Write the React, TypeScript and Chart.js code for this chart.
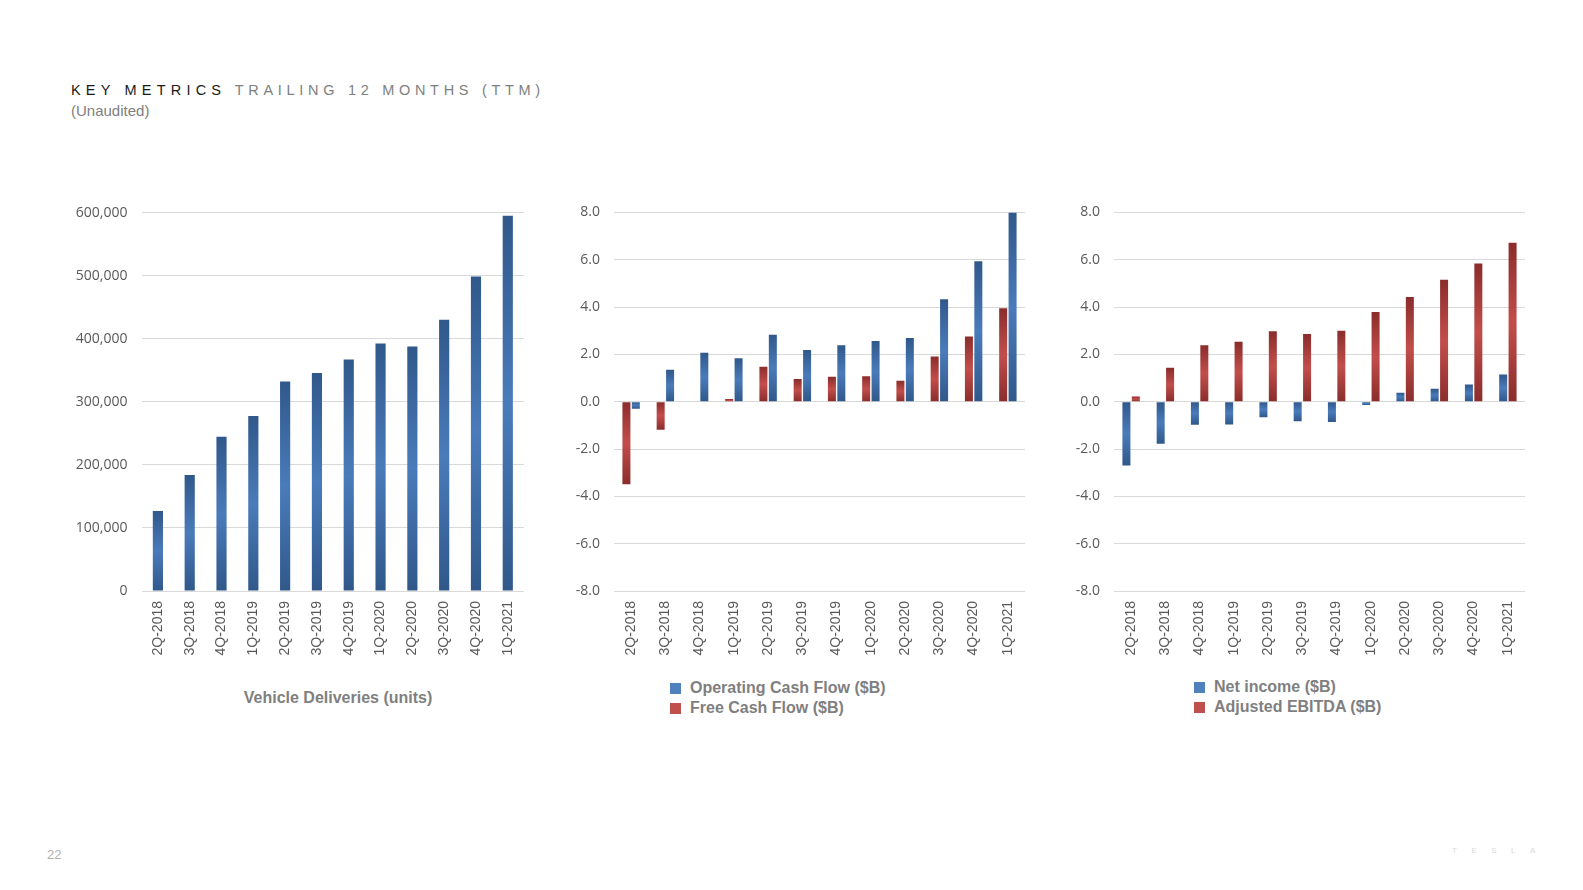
import React, { useEffect, useRef } from 'react';
import { Chart, registerables } from 'chart.js';

Chart.register(...registerables);

// ---------------- data ----------------
const quarters = [
  '2Q-2018', '3Q-2018', '4Q-2018', '1Q-2019', '2Q-2019', '3Q-2019',
  '4Q-2019', '1Q-2020', '2Q-2020', '3Q-2020', '4Q-2020', '1Q-2021',
];

const vehicleDeliveries = [
  126800, 184200, 244900, 277900, 332400, 345900,
  367200, 392600, 388100, 430400, 498900, 595300,
];

const operatingCashFlow = [-0.3, 1.35, 2.07, 1.84, 2.83, 2.19, 2.39, 2.57, 2.69, 4.33, 5.94, 8.0];
const freeCashFlow = [-3.49, -1.19, 0.0, 0.11, 1.48, 0.96, 1.05, 1.08, 0.89, 1.91, 2.76, 3.95];

const netIncome = [-2.7, -1.78, -0.97, -0.96, -0.66, -0.83, -0.86, -0.14, 0.38, 0.55, 0.73, 1.15];
const adjustedEbitda = [0.22, 1.43, 2.39, 2.53, 2.98, 2.86, 3.0, 3.79, 4.42, 5.15, 5.84, 6.72];

const deliveryTicks = [0, 100000, 200000, 300000, 400000, 500000, 600000];
const financeTicks = [-8, -6, -4, -2, 0, 2, 4, 6, 8];

// ---------------- styling helpers ----------------
const BLUE_DARK = '#30588a';
const BLUE_LIGHT = '#4a7bba';
const RED_DARK = '#8a2d2b';
const RED_LIGHT = '#c24e4b';
const BLUE_KEY = '#4f81bd';
const RED_KEY = '#c0504d';
const GRID = '#d9d9d9';
const TICK = '#595959';

function gradient(dark: string, light: string) {
  return (c: any) => {
    const chart = c.chart;
    if (c.type !== 'data' || !chart.chartArea) return light;
    const ys = chart.scales.y;
    const v = c.raw as number;
    const a = ys.getPixelForValue(0);
    const b = ys.getPixelForValue(v);
    const top = Math.min(a, b);
    const bot = Math.max(a, b);
    if (bot - top < 2) return dark;
    const g = chart.ctx.createLinearGradient(0, top, 0, bot);
    g.addColorStop(0, dark);
    g.addColorStop(0.5, light);
    g.addColorStop(1, dark);
    return g;
  };
}

type Box = {
  left: number; top: number; width: number; height: number;
  padTop: number; padRight: number; yWidth: number; xHeight: number; yPad: number;
};

function makeOptions(box: Box, yTicks: number[], fmt: (v: number) => string): any {
  return {
    responsive: true,
    maintainAspectRatio: false,
    animation: false,
    layout: { padding: { top: box.padTop, right: box.padRight, left: 0, bottom: 0 } },
    plugins: { legend: { display: false }, tooltip: { enabled: false } },
    scales: {
      x: {
        grid: { display: false, drawTicks: false },
        border: { display: false },
        ticks: {
          autoSkip: false,
          minRotation: 90,
          maxRotation: 90,
          padding: 10,
          color: TICK,
          font: { family: '"Liberation Sans", Arial, sans-serif', size: 14 },
        },
        afterFit: (s: any) => { s.height = box.xHeight; },
      },
      y: {
        min: yTicks[0],
        max: yTicks[yTicks.length - 1],
        afterBuildTicks: (s: any) => { s.ticks = yTicks.map((v) => ({ value: v })); },
        grid: { color: GRID, lineWidth: 1, drawTicks: false },
        border: { display: false },
        ticks: {
          padding: box.yPad,
          color: TICK,
          font: { family: '"Open Sans", sans-serif', size: 14 },
          callback: (v: any) => fmt(Number(v)),
        },
        afterFit: (s: any) => { s.width = box.yWidth; },
      },
    },
  };
}

function ChartBox({ box, config }: { box: Box; config: () => any }) {
  const ref = useRef<HTMLCanvasElement | null>(null);
  useEffect(() => {
    if (!ref.current) return;
    const chart = new Chart(ref.current, config());
    return () => chart.destroy();
  }, []);
  return (
    <div style={{ position: 'absolute', left: box.left, top: box.top, width: box.width, height: box.height }}>
      <canvas ref={ref} />
    </div>
  );
}

const box1: Box = { left: 50, top: 190, width: 485, height: 480, padTop: 19, padRight: 10, yWidth: 92, xHeight: 79, yPad: 14.5 };
const box2: Box = { left: 555, top: 190, width: 485, height: 480, padTop: 21, padRight: 15, yWidth: 59, xHeight: 79, yPad: 14 };
const box3: Box = { left: 1055, top: 190, width: 485, height: 480, padTop: 19.3, padRight: 15, yWidth: 59, xHeight: 79, yPad: 14 };

const deliveriesConfig = () => ({
  type: 'bar',
  data: {
    labels: quarters,
    datasets: [
      {
        label: 'Vehicle Deliveries (units)',
        data: vehicleDeliveries,
        backgroundColor: gradient(BLUE_DARK, BLUE_LIGHT),
        borderWidth: 0,
        categoryPercentage: 0.8,
        barPercentage: 0.4,
      },
    ],
  },
  options: makeOptions(box1, deliveryTicks, (v) => v.toLocaleString('en-US')),
});

const cashConfig = () => ({
  type: 'bar',
  data: {
    labels: quarters,
    datasets: [
      {
        label: 'Free Cash Flow ($B)',
        data: freeCashFlow,
        backgroundColor: gradient(RED_DARK, RED_LIGHT),
        borderWidth: 0,
        categoryPercentage: 0.55,
        barPercentage: 0.85,
      },
      {
        label: 'Operating Cash Flow ($B)',
        data: operatingCashFlow,
        backgroundColor: gradient(BLUE_DARK, BLUE_LIGHT),
        borderWidth: 0,
        categoryPercentage: 0.55,
        barPercentage: 0.85,
      },
    ],
  },
  options: makeOptions(box2, financeTicks, (v) => v.toFixed(1)),
});

const incomeConfig = () => ({
  type: 'bar',
  data: {
    labels: quarters,
    datasets: [
      {
        label: 'Net income ($B)',
        data: netIncome,
        backgroundColor: gradient(BLUE_DARK, BLUE_LIGHT),
        borderWidth: 0,
        categoryPercentage: 0.55,
        barPercentage: 0.85,
      },
      {
        label: 'Adjusted EBITDA ($B)',
        data: adjustedEbitda,
        backgroundColor: gradient(RED_DARK, RED_LIGHT),
        borderWidth: 0,
        categoryPercentage: 0.55,
        barPercentage: 0.85,
      },
    ],
  },
  options: makeOptions(box3, financeTicks, (v) => v.toFixed(1)),
});

function Legend({ left, top, items }: { left: number; top: number; items: { label: string; color: string }[] }) {
  return (
    <div style={{ position: 'absolute', left, top }}>
      {items.map((it) => (
        <div key={it.label} style={{ display: 'flex', alignItems: 'center', height: 20 }}>
          <span style={{ display: 'inline-block', width: 11, height: 11, background: it.color, marginRight: 9 }} />
          <span style={{ font: 'bold 16px "Liberation Sans", Arial, sans-serif', color: '#7f7f7f', whiteSpace: 'nowrap' }}>
            {it.label}
          </span>
        </div>
      ))}
    </div>
  );
}

export default function App() {
  return (
    <div
      style={{
        position: 'absolute', left: 0, top: 0, width: 1583, height: 890, overflow: 'hidden',
        background: '#ffffff', fontFamily: '"Liberation Sans", Arial, sans-serif',
      }}
    >
      <div style={{ position: 'absolute', left: 71, top: 81, fontSize: 14.5, whiteSpace: 'nowrap', lineHeight: '18px' }}>
        <span style={{ color: '#1a1a1a', letterSpacing: 5.2 }}>KEY METRICS</span>
        <span style={{ color: '#808080', letterSpacing: 4.7 }}> TRAILING 12 MONTHS (TTM)</span>
      </div>
      <div style={{ position: 'absolute', left: 71, top: 102, fontSize: 15, color: '#808080', lineHeight: '18px' }}>
        (Unaudited)
      </div>

      <ChartBox box={box1} config={deliveriesConfig} />
      <ChartBox box={box2} config={cashConfig} />
      <ChartBox box={box3} config={incomeConfig} />

      <div
        style={{
          position: 'absolute', left: 238, top: 688, width: 200, textAlign: 'center', whiteSpace: 'nowrap',
          font: 'bold 16px "Liberation Sans", Arial, sans-serif', color: '#7f7f7f', lineHeight: '20px',
        }}
      >
        Vehicle Deliveries (units)
      </div>

      <Legend
        left={670}
        top={678}
        items={[
          { label: 'Operating Cash Flow ($B)', color: BLUE_KEY },
          { label: 'Free Cash Flow ($B)', color: RED_KEY },
        ]}
      />
      <Legend
        left={1194}
        top={677}
        items={[
          { label: 'Net income ($B)', color: BLUE_KEY },
          { label: 'Adjusted EBITDA ($B)', color: RED_KEY },
        ]}
      />

      <div style={{ position: 'absolute', left: 47, top: 847, fontSize: 13, color: '#b0b0b0' }}>22</div>
      <div style={{ position: 'absolute', left: 1452, top: 846, fontSize: 8, color: '#dadada', letterSpacing: 14.5, whiteSpace: 'nowrap' }}>
        TESLA
      </div>
    </div>
  );
}
